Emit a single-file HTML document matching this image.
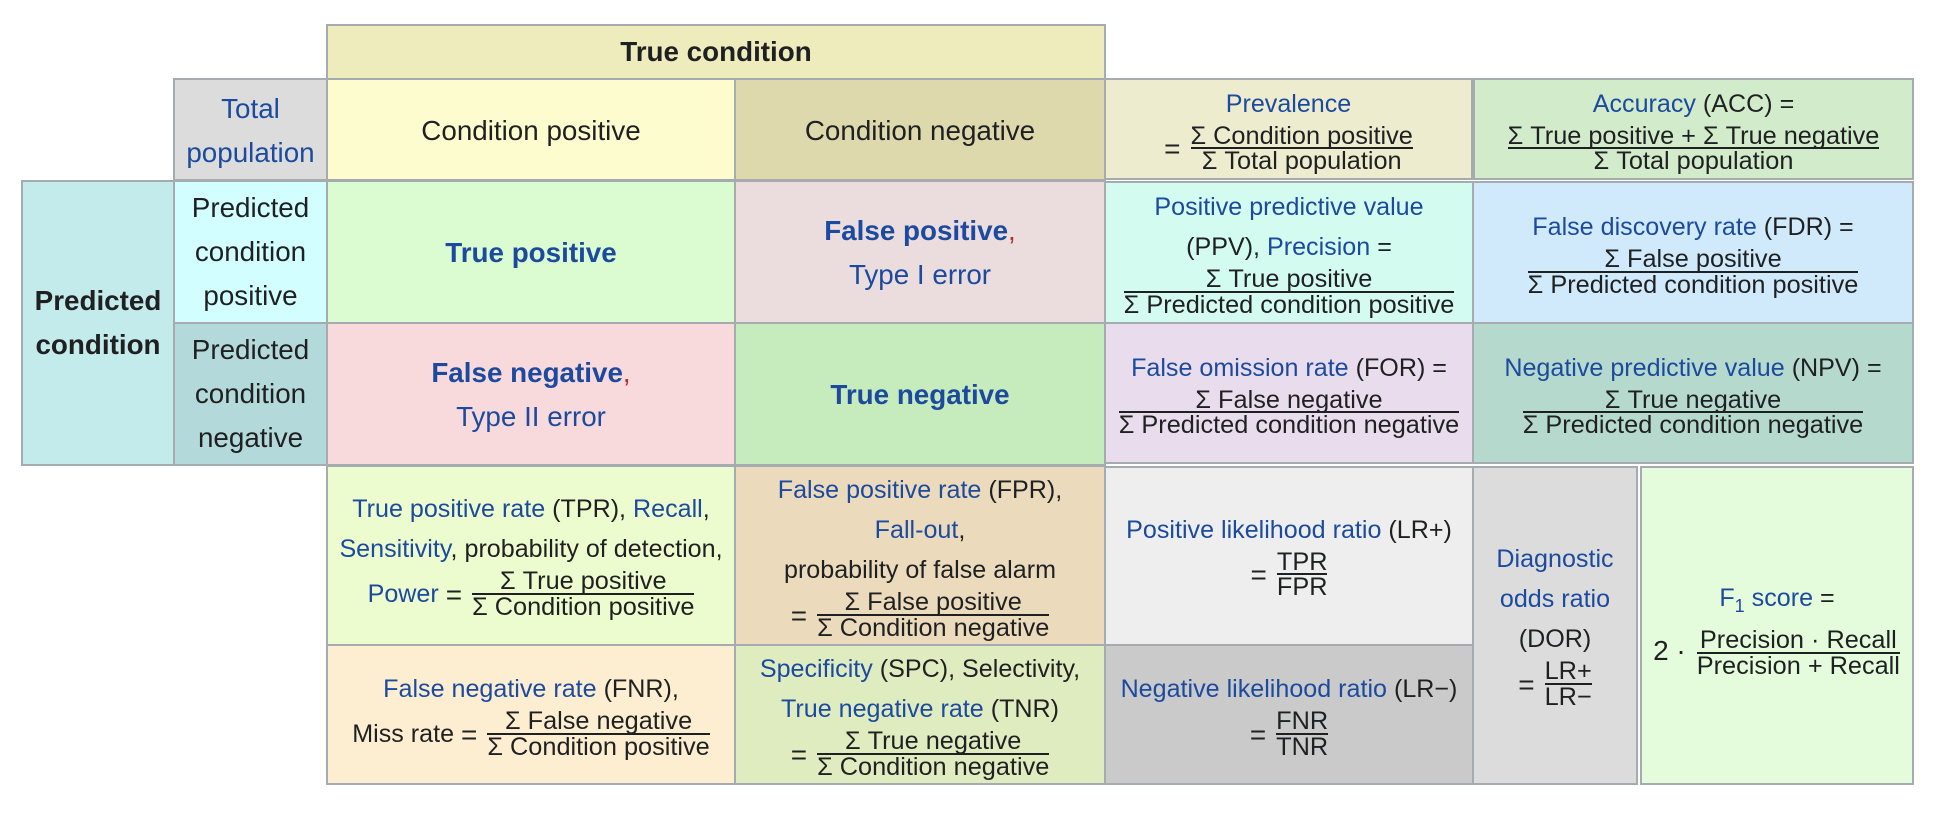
<!DOCTYPE html>
<html lang="en">
<head>
<meta charset="utf-8">
<title>Confusion matrix terminology</title>
<style>
html,body{margin:0;padding:0;background:#fff;}
#stage{position:relative;width:1948px;height:826px;overflow:hidden;background:#fff;font-family:"Liberation Sans",Arial,sans-serif;color:#1f2021;}
.c{position:absolute;box-sizing:border-box;border:2px solid #a6abb0;padding-top:2px;display:flex;flex-direction:column;align-items:center;justify-content:center;text-align:center;font-size:27.8px;line-height:44px;white-space:nowrap;}
.s{font-size:25.1px;line-height:40px;padding-top:0;}
.h{padding-top:0;}
.u{padding-bottom:2px;}
a{color:#1b4a9e;text-decoration:none;}
.b{font-weight:bold;}
.r{color:#b3302c;}
.l{display:block;}
.m{display:flex;align-items:center;justify-content:center;line-height:25px;}
.e{font-size:28px;}
.f{display:inline-block;text-align:center;margin-left:10px;font-size:25.3px;}
.f0{margin-left:0;}
.n{display:block;height:23.8px;border-bottom:2px solid #1f2021;}
.d{display:block;margin-top:0;}
sub{font-size:18px;line-height:0;}
</style>
</head>
<body>
<div id="stage">

<div class="c b h" style="left:326px;top:24px;width:780px;height:56px;background:#eeebbd;">True condition</div>

<div class="c" style="left:173px;top:78px;width:155px;height:103px;background:#dcdcdc;"><a class="l" href="#">Total</a><a class="l" href="#">population</a></div>
<div class="c" style="left:326px;top:78px;width:410px;height:103px;background:#fdfccf;">Condition positive</div>
<div class="c" style="left:734px;top:78px;width:372px;height:103px;background:#ded9ac;">Condition negative</div>

<div class="c s" style="left:1104px;top:78px;width:369px;height:102px;background:#eeeccf;">
  <a class="l" href="#">Prevalence</a>
  <span class="m"><span class="e">=</span><span class="f"><span class="n">Σ Condition positive</span><span class="d">Σ Total population</span></span></span>
</div>
<div class="c s" style="left:1473px;top:78px;width:441px;height:102px;background:#d2ebcb;">
  <span class="l"><a href="#">Accuracy</a> (ACC) =</span>
  <span class="m"><span class="f f0"><span class="n">Σ True positive + Σ True negative</span><span class="d">Σ Total population</span></span></span>
</div>

<div class="c b h" style="left:21px;top:180px;width:154px;height:286px;background:#c4ebec;"><span class="l">Predicted</span><span class="l">condition</span></div>
<div class="c h" style="left:173px;top:180px;width:155px;height:144px;background:#d2feff;"><span class="l">Predicted</span><span class="l">condition</span><span class="l">positive</span></div>
<div class="c h" style="left:173px;top:322px;width:155px;height:144px;background:#b4d9da;"><span class="l">Predicted</span><span class="l">condition</span><span class="l">negative</span></div>

<div class="c" style="left:326px;top:180px;width:410px;height:144px;background:#dafcd0;"><a class="b" href="#">True positive</a></div>
<div class="c" style="left:734px;top:180px;width:372px;height:144px;background:#ebdcde;"><span class="l"><a class="b" href="#">False positive</a><span class="r">,</span></span><a class="l" href="#">Type I error</a></div>
<div class="c" style="left:326px;top:322px;width:410px;height:144px;background:#f8dadc;"><span class="l"><a class="b" href="#">False negative</a><span class="r">,</span></span><a class="l" href="#">Type II error</a></div>
<div class="c" style="left:734px;top:322px;width:372px;height:144px;background:#c6ebbc;"><a class="b" href="#">True negative</a></div>

<div class="c s" style="left:1104px;top:181px;width:370px;height:143px;background:#d4fbef;">
  <a class="l" href="#">Positive predictive value</a>
  <span class="l">(PPV), <a href="#">Precision</a> =</span>
  <span class="m"><span class="f f0"><span class="n">Σ True positive</span><span class="d">Σ Predicted condition positive</span></span></span>
</div>
<div class="c s" style="left:1472px;top:181px;width:442px;height:143px;background:#d0eafc;">
  <span class="l"><a href="#">False discovery rate</a> (FDR) =</span>
  <span class="m"><span class="f f0"><span class="n">Σ False positive</span><span class="d">Σ Predicted condition positive</span></span></span>
</div>
<div class="c s" style="left:1104px;top:322px;width:370px;height:142px;background:#e9dcec;">
  <span class="l"><a href="#">False omission rate</a> (FOR) =</span>
  <span class="m"><span class="f f0"><span class="n">Σ False negative</span><span class="d">Σ Predicted condition negative</span></span></span>
</div>
<div class="c s" style="left:1472px;top:322px;width:442px;height:142px;background:#b6d9cd;">
  <span class="l"><a href="#">Negative predictive value</a> (NPV) =</span>
  <span class="m"><span class="f f0"><span class="n">Σ True negative</span><span class="d">Σ Predicted condition negative</span></span></span>
</div>

<div class="c s u" style="left:326px;top:465px;width:410px;height:181px;background:#edfccf;">
  <span class="l"><a href="#">True positive rate</a> (TPR), <a href="#">Recall</a>,</span>
  <span class="l"><a href="#">Sensitivity</a>, probability of detection,</span>
  <span class="m"><a href="#">Power</a>&nbsp;<span class="e">=</span><span class="f"><span class="n">Σ True positive</span><span class="d">Σ Condition positive</span></span></span>
</div>
<div class="c s" style="left:734px;top:465px;width:372px;height:181px;background:#ebdbbc;">
  <span class="l"><a href="#">False positive rate</a> (FPR),</span>
  <span class="l"><a href="#">Fall-out</a>,</span>
  <span class="l">probability of false alarm</span>
  <span class="m"><span class="e">=</span><span class="f"><span class="n">Σ False positive</span><span class="d">Σ Condition negative</span></span></span>
</div>
<div class="c s" style="left:326px;top:644px;width:410px;height:141px;background:#fdeed2;">
  <span class="l"><a href="#">False negative rate</a> (FNR),</span>
  <span class="m">Miss rate&nbsp;<span class="e">=</span><span class="f"><span class="n">Σ False negative</span><span class="d">Σ Condition positive</span></span></span>
</div>
<div class="c s" style="left:734px;top:644px;width:372px;height:141px;background:#dfecc0;">
  <span class="l"><a href="#">Specificity</a> (SPC), Selectivity,</span>
  <span class="l"><a href="#">True negative rate</a> (TNR)</span>
  <span class="m"><span class="e">=</span><span class="f"><span class="n">Σ True negative</span><span class="d">Σ Condition negative</span></span></span>
</div>

<div class="c s u" style="left:1104px;top:466px;width:370px;height:180px;background:#eeeeee;">
  <span class="l"><a href="#">Positive likelihood ratio</a> (LR+)</span>
  <span class="m"><span class="e">=</span><span class="f"><span class="n">TPR</span><span class="d">FPR</span></span></span>
</div>
<div class="c s" style="left:1104px;top:644px;width:370px;height:141px;background:#cacaca;">
  <span class="l"><a href="#">Negative likelihood ratio</a> (LR−)</span>
  <span class="m"><span class="e">=</span><span class="f"><span class="n">FNR</span><span class="d">TNR</span></span></span>
</div>
<div class="c s u" style="left:1472px;top:466px;width:166px;height:319px;background:#dcdcdc;">
  <a class="l" href="#">Diagnostic</a>
  <a class="l" href="#">odds ratio</a>
  <span class="l">(DOR)</span>
  <span class="m"><span class="e">=</span><span class="f"><span class="n">LR+</span><span class="d">LR−</span></span></span>
</div>
<div class="c s" style="left:1640px;top:466px;width:274px;height:319px;padding-top:5.5px;background:#e4fcdc;">
  <span class="l"><a href="#">F<sub>1</sub> score</a> =</span>
  <span class="m" style="margin-top:10px;"><span class="e" style="position:relative;top:-3px;left:-1px;">2 ·</span><span class="f"><span class="n">Precision · Recall</span><span class="d">Precision + Recall</span></span></span>
</div>

</div>
</body>
</html>
